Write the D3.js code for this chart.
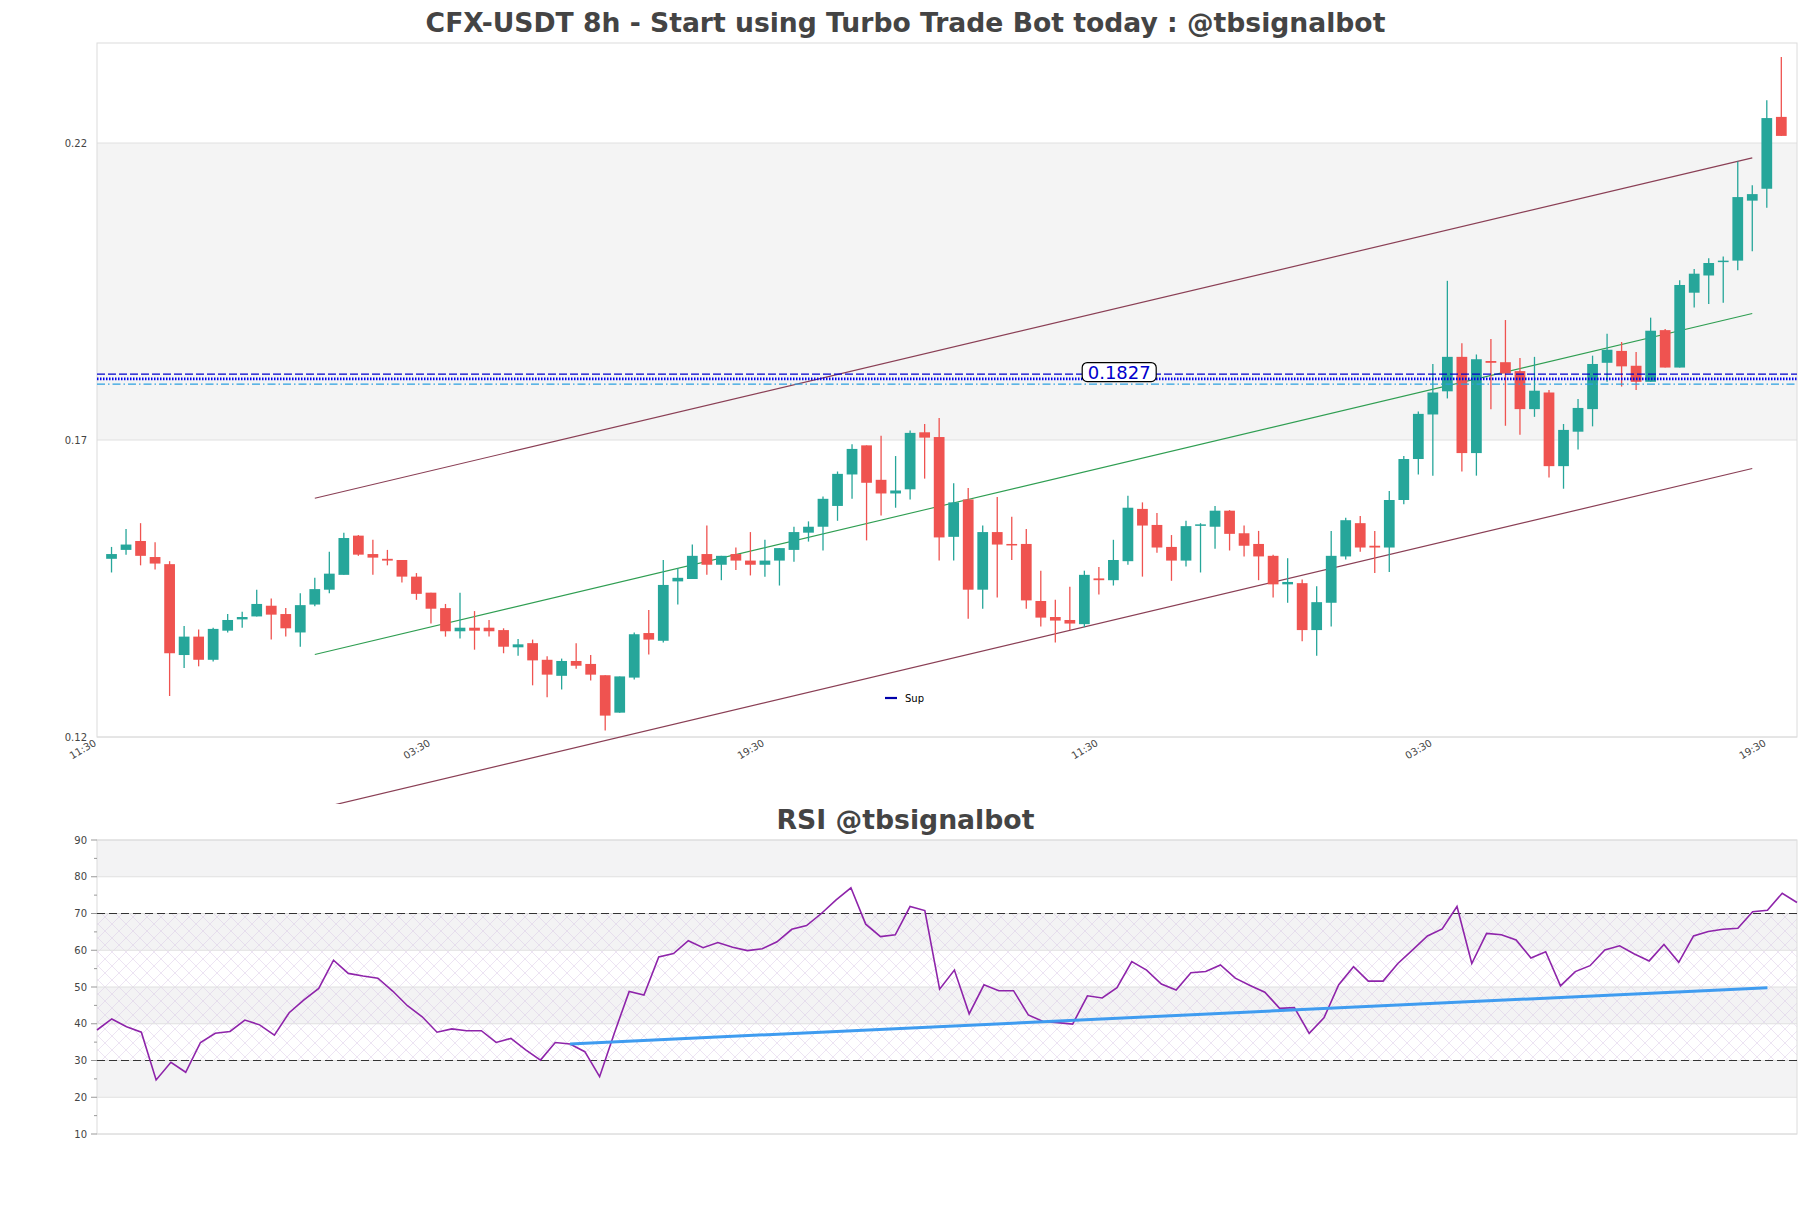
<!DOCTYPE html>
<html><head><meta charset="utf-8">
<script src="https://cdn.jsdelivr.net/npm/d3@7/dist/d3.min.js"></script>
<style>body{margin:0;background:#fff;} text{font-family:"DejaVu Sans",sans-serif;}</style>
</head><body><svg id="c" width="1811" height="1208"></svg>
<script>
// ---------- data ----------
const opens =[0.1500,0.1515,0.1530,0.1503,0.1491,0.1338,0.1369,0.1330,0.1379,0.1398,0.1403,0.1421,0.1407,0.1376,0.1423,0.1448,0.1473,0.1539,0.1508,0.1500,0.1498,0.1470,0.1443,0.1417,0.1378,0.1384,0.1384,0.1380,0.1351,0.1358,
0.1330,0.1303,0.1328,0.1323,0.1304,0.1241,0.1300,0.1375,0.1362,0.1462,0.1466,0.1508,0.1490,0.1508,0.1497,0.1490,0.1497,0.1515,0.1544,0.1554,0.1589,0.1642,0.1691,0.1633,0.1610,0.1617,0.1713,0.1705,0.1537,0.1600,
0.1448,0.1545,0.1525,0.1525,0.1429,0.1402,0.1397,0.1390,0.1467,0.1464,0.1496,0.1584,0.1557,0.1520,0.1497,0.1556,0.1554,0.1581,0.1543,0.1525,0.1505,0.1457,0.1459,0.1380,0.1426,0.1504,0.1560,0.1522,0.1519,0.1599,
0.1668,0.1743,0.1782,0.1840,0.1678,0.1833,0.1831,0.1816,0.1752,0.1780,0.1656,0.1714,0.1752,0.1830,0.1850,0.1825,0.1798,0.1885,0.1822,0.1948,0.1977,0.2000,0.2002,0.2103,0.2123,0.2244];
const highs =[0.1520,0.1550,0.1560,0.1528,0.1496,0.1387,0.1381,0.1384,0.1407,0.1411,0.1448,0.1433,0.1417,0.1442,0.1468,0.1512,0.1544,0.1540,0.1532,0.1515,0.1498,0.1476,0.1443,0.1424,0.1443,0.1412,0.1397,0.1383,0.1365,0.1364,
0.1336,0.1332,0.1358,0.1338,0.1304,0.1302,0.1376,0.1414,0.1498,0.1484,0.1524,0.1556,0.1505,0.1519,0.1545,0.1532,0.1518,0.1554,0.1563,0.1605,0.1647,0.1693,0.1691,0.1707,0.1673,0.1716,0.1727,0.1737,0.1627,0.1619,
0.1556,0.1604,0.1571,0.1550,0.1480,0.1431,0.1453,0.1480,0.1486,0.1532,0.1606,0.1595,0.1577,0.1540,0.1564,0.1560,0.1589,0.1582,0.1556,0.1547,0.1507,0.1501,0.1465,0.1454,0.1547,0.1569,0.1572,0.1547,0.1614,0.1673,
0.1748,0.1828,0.1968,0.1863,0.1844,0.1870,0.1902,0.1838,0.1840,0.1784,0.1727,0.1769,0.1842,0.1879,0.1865,0.1848,0.1906,0.1887,0.1969,0.1988,0.2006,0.2009,0.2169,0.2129,0.2272,0.2345];
const lows  =[0.1477,0.1507,0.1489,0.1482,0.1269,0.1316,0.1319,0.1327,0.1376,0.1384,0.1403,0.1364,0.1369,0.1352,0.1420,0.1442,0.1473,0.1505,0.1473,0.1489,0.1460,0.1431,0.1391,0.1369,0.1366,0.1347,0.1369,0.1341,0.1337,0.1287,
0.1267,0.1280,0.1315,0.1295,0.1211,0.1241,0.1297,0.1339,0.1359,0.1423,0.1466,0.1473,0.1464,0.1481,0.1472,0.1470,0.1455,0.1495,0.1529,0.1514,0.1564,0.1601,0.1531,0.1573,0.1586,0.1600,0.1635,0.1497,0.1497,0.1399,
0.1416,0.1435,0.1498,0.1416,0.1386,0.1359,0.1380,0.1385,0.1440,0.1455,0.1490,0.1470,0.1510,0.1463,0.1487,0.1477,0.1517,0.1514,0.1504,0.1464,0.1435,0.1426,0.1361,0.1337,0.1386,0.1499,0.1512,0.1476,0.1478,0.1592,
0.1642,0.1640,0.1770,0.1647,0.1640,0.1752,0.1724,0.1709,0.1739,0.1637,0.1618,0.1684,0.1723,0.1798,0.1790,0.1784,0.1798,0.1822,0.1822,0.1923,0.1929,0.1931,0.1986,0.2018,0.2091,0.2212];
const closes=[0.1508,0.1524,0.1505,0.1492,0.1341,0.1369,0.1330,0.1382,0.1397,0.1402,0.1424,0.1406,0.1383,0.1422,0.1449,0.1475,0.1535,0.1507,0.1502,0.1497,0.1470,0.1441,0.1416,0.1378,0.1384,0.1379,0.1378,0.1352,0.1356,0.1329,
0.1305,0.1328,0.1320,0.1305,0.1236,0.1302,0.1373,0.1364,0.1456,0.1468,0.1505,0.1490,0.1505,0.1497,0.1490,0.1497,0.1518,0.1545,0.1554,0.1601,0.1643,0.1685,0.1628,0.1610,0.1615,0.1712,0.1704,0.1536,0.1595,0.1448,
0.1545,0.1524,0.1524,0.1430,0.1401,0.1396,0.1391,0.1473,0.1464,0.1498,0.1586,0.1556,0.1519,0.1497,0.1555,0.1558,0.1581,0.1542,0.1522,0.1504,0.1457,0.1461,0.1380,0.1427,0.1505,0.1565,0.1519,0.1519,0.1599,0.1668,
0.1744,0.1780,0.1840,0.1678,0.1836,0.1830,0.1812,0.1752,0.1783,0.1656,0.1717,0.1754,0.1828,0.1852,0.1824,0.1798,0.1884,0.1822,0.1961,0.1980,0.1998,0.2002,0.2109,0.2114,0.2242,0.2212];
const rsiValues=[38.3,41.3,39.2,37.7,24.7,29.5,26.8,34.9,37.4,37.9,41.0,39.7,36.9,43.0,46.5,49.6,57.3,53.7,53.0,52.4,
48.9,44.9,41.9,37.7,38.6,38.1,38.1,34.9,36.0,32.9,30.1,34.9,34.5,32.4,25.6,37.5,48.8,47.8,58.2,59.1,
62.6,60.7,62.1,60.8,59.9,60.4,62.3,65.7,66.7,70.0,73.7,77.0,67.1,63.7,64.2,71.9,70.8,49.4,54.6,42.7,
50.6,49.0,49.0,42.4,40.6,40.3,39.9,47.6,47.0,49.8,56.9,54.6,50.8,49.2,53.9,54.2,56.0,52.4,50.4,48.6,
44.2,44.4,37.4,41.6,50.6,55.5,51.6,51.6,56.4,60.1,63.9,65.8,71.9,56.4,64.6,64.2,62.8,57.9,59.6,50.3,
54.2,55.8,60.1,61.2,59.0,57.1,61.6,56.7,63.9,65.1,65.7,66.0,70.5,70.9,75.5,73.0];
const xTickIndex=[0,23,46,69,92,115];
const xTickLabels=["11:30","03:30","19:30","11:30","03:30","19:30"];
const priceTicks=[0.12,0.17,0.22];
const priceBand=[0.17,0.22];
const rsiTicks=[10,20,30,40,50,60,70,80,90];
const rsiGrayBands=[[80,90],[60,70],[40,50],[20,30]];
const rsiHatch=[30,70];
const rsiDashed=[70,30];
const supDashed=0.1811, supDotted=0.1803, supDashDot=0.1794;
const supLabel="0.1827", supLabelIndex=70.4;
const channelUpper=[[15,0.1602],[114,0.2175]];
const channelMid=[[15,0.1339],[114,0.1913]];
const channelLower=[[15,0.1078],[114,0.1652]];
const rsiTrend=[[32,34.5],[113,49.8]];
const title="CFX-USDT 8h - Start using Turbo Trade Bot today : @tbsignalbot";
const rsiTitle="RSI @tbsignalbot";

// ---------- layout ----------
const L=97,R=1797,T=43,B=737, RT=840, RB=1134;
const svg=d3.select("#c");
const defs=svg.append("defs");
const pat=defs.append("pattern").attr("id","hatch").attr("patternUnits","userSpaceOnUse").attr("width",14).attr("height",14);
pat.append("path").attr("d","M0,0L14,14M14,0L0,14").attr("stroke","#d9c6e6").attr("stroke-width",0.6).attr("fill","none");
defs.append("clipPath").attr("id","mainclip").append("rect").attr("x",0).attr("y",0).attr("width",1811).attr("height",804);

const x=d3.scaleLinear().domain([0,117.08]).range([L,R]);
const y=d3.scaleLinear().domain([0.12,0.23684]).range([B,T]);
const xr=d3.scaleLinear().domain([0,115]).range([L,R]);
const yr=d3.scaleLinear().domain([10,90]).range([RB,RT]);

// titles
function fitText(sel,target){const w=sel.node().getComputedTextLength();const fs=parseFloat(sel.attr("font-size"));sel.attr("font-size",fs*target/w);}
const t1=svg.append("text").attr("x",905.5).attr("y",32).attr("text-anchor","middle").attr("font-size",26).attr("font-weight","bold").attr("fill","#444").text(title);
fitText(t1,960);
const t2=svg.append("text").attr("x",905.5).attr("y",829).attr("text-anchor","middle").attr("font-size",26).attr("font-weight","bold").attr("fill","#444").text(rsiTitle);
fitText(t2,258);

// main panel
const g=svg.append("g");
g.append("rect").attr("x",L).attr("y",y(priceBand[1])).attr("width",R-L).attr("height",y(priceBand[0])-y(priceBand[1])).attr("fill","#f4f4f4");
g.selectAll(".pg").data(priceTicks).join("line").attr("x1",L).attr("x2",R).attr("y1",d=>y(d)).attr("y2",d=>y(d)).attr("stroke","#e0e0e0");
g.append("rect").attr("x",L).attr("y",T).attr("width",R-L).attr("height",B-T).attr("fill","none").attr("stroke","#dcdcdc");
g.selectAll(".pl").data(priceTicks).join("text").attr("x",L-10).attr("y",d=>y(d)).attr("dy","0.35em").attr("text-anchor","end").attr("font-size",10).attr("fill","#444").text(d=>d.toFixed(2));
g.selectAll(".xl").data(xTickIndex).join("text").attr("text-anchor","end").attr("font-size",10).attr("fill","#444")
 .attr("transform",d=>`translate(${x(d)},745) rotate(-30)`).text((d,i)=>xTickLabels[i]);

// channel lines
const lg=g.append("g").attr("clip-path","url(#mainclip)");
const ln=d3.line().x(d=>x(d[0])).y(d=>y(d[1]));
lg.append("path").attr("d",ln(channelUpper)).attr("stroke","#8a3f55").attr("stroke-width",1.2).attr("fill","none");
lg.append("path").attr("d",ln(channelLower)).attr("stroke","#8a3f55").attr("stroke-width",1.2).attr("fill","none");
lg.append("path").attr("d",ln(channelMid)).attr("stroke","#2f9e52").attr("stroke-width",1.1).attr("fill","none");

// candles
const step=x(1)-x(0), bw=step*0.74;
const idx=d3.range(opens.length);
const cg=g.append("g");
cg.selectAll(".w").data(idx).join("line").attr("x1",i=>x(i+1)).attr("x2",i=>x(i+1)).attr("y1",i=>y(highs[i])).attr("y2",i=>y(lows[i]))
 .attr("stroke",i=>closes[i]>=opens[i]?"#26a69a":"#ef5350").attr("stroke-width",1.3);
cg.selectAll(".b").data(idx).join("rect").attr("x",i=>x(i+1)-bw/2).attr("width",bw)
 .attr("y",i=>y(Math.max(opens[i],closes[i]))).attr("height",i=>Math.max(1.5,Math.abs(y(opens[i])-y(closes[i]))))
 .attr("fill",i=>closes[i]>=opens[i]?"#26a69a":"#ef5350");

// support lines
g.append("line").attr("x1",L).attr("x2",R).attr("y1",y(supDashed)).attr("y2",y(supDashed)).attr("stroke","#0000cc").attr("stroke-width",1.3).attr("stroke-dasharray","8,3");
g.append("line").attr("x1",L).attr("x2",R).attr("y1",y(supDotted)).attr("y2",y(supDotted)).attr("stroke","#0000ee").attr("stroke-width",2.6).attr("stroke-dasharray","1.5,1.5");
g.append("line").attr("x1",L).attr("x2",R).attr("y1",y(supDashDot)).attr("y2",y(supDashDot)).attr("stroke","#2a9fe0").attr("stroke-width",1.2).attr("stroke-dasharray","8,3,1.5,3");
const lbx=x(supLabelIndex), lby=y(supDashed)-2;
g.append("rect").attr("x",lbx-37).attr("y",lby-9.5).attr("width",74).attr("height",19).attr("rx",5).attr("fill","#fff").attr("stroke","#000").attr("stroke-width",1.2);
g.append("text").attr("x",lbx).attr("y",lby).attr("dy","0.36em").attr("text-anchor","middle").attr("font-size",18).attr("fill","#0000cc").text(supLabel);
// legend
g.append("line").attr("x1",885).attr("x2",897).attr("y1",698).attr("y2",698).attr("stroke","#0000aa").attr("stroke-width",2.2);
g.append("text").attr("x",905).attr("y",698).attr("dy","0.35em").attr("font-size",10).attr("fill","#000").text("Sup");

// RSI panel
const rg=svg.append("g");
rg.selectAll(".gb").data(rsiGrayBands).join("rect").attr("x",L).attr("width",R-L).attr("y",d=>yr(d[1])).attr("height",d=>yr(d[0])-yr(d[1])).attr("fill","#f3f3f4");
rg.append("rect").attr("x",L).attr("width",R-L).attr("y",yr(rsiHatch[1])).attr("height",yr(rsiHatch[0])-yr(rsiHatch[1])).attr("fill","url(#hatch)").attr("opacity",0.8);
rg.selectAll(".rg").data(rsiTicks).join("line").attr("x1",L).attr("x2",R).attr("y1",d=>yr(d)).attr("y2",d=>yr(d)).attr("stroke","#e0e0e0");
rg.append("rect").attr("x",L).attr("y",RT).attr("width",R-L).attr("height",RB-RT).attr("fill","none").attr("stroke","#dcdcdc");
rg.selectAll(".rd").data(rsiDashed).join("line").attr("x1",L).attr("x2",R).attr("y1",d=>yr(d)).attr("y2",d=>yr(d)).attr("stroke","#333").attr("stroke-width",1.2).attr("stroke-dasharray","8,4");
rg.selectAll(".tk").data(d3.range(10,91,5)).join("line").attr("x1",d=>d%10===0?L-6:L-3).attr("x2",L).attr("y1",d=>yr(d)).attr("y2",d=>yr(d)).attr("stroke","#999");
rg.selectAll(".rl").data(rsiTicks).join("text").attr("x",L-10).attr("y",d=>yr(d)).attr("dy","0.35em").attr("text-anchor","end").attr("font-size",10).attr("fill","#444").text(d=>d);
rg.append("path").attr("d",d3.line().x((d,i)=>xr(i)).y(d=>yr(d))(rsiValues)).attr("stroke","#8e24aa").attr("stroke-width",1.6).attr("fill","none");
rg.append("path").attr("d",d3.line().x(d=>xr(d[0])).y(d=>yr(d[1]))(rsiTrend)).attr("stroke","#3f9cf0").attr("stroke-width",3).attr("fill","none");
</script></body></html>
